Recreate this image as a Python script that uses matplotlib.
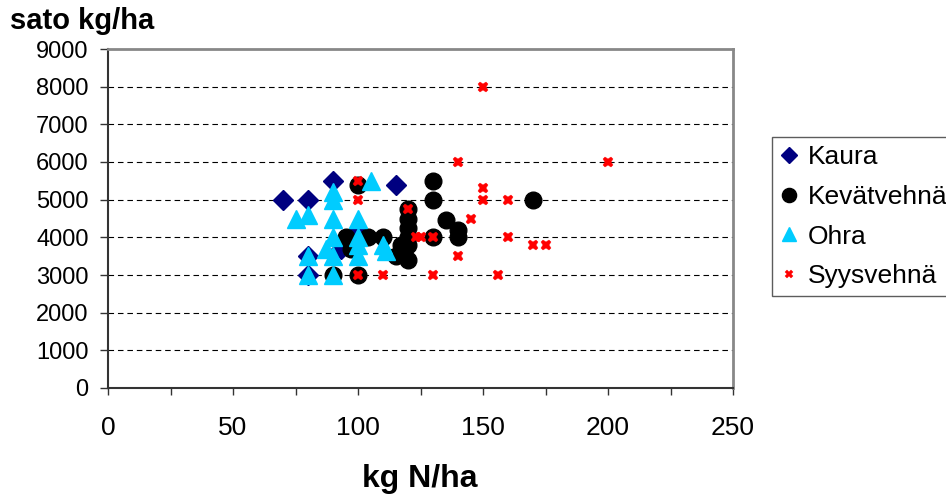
import matplotlib
matplotlib.use("Agg")
import matplotlib.pyplot as plt
from matplotlib.ticker import MultipleLocator

plt.rcParams['font.family'] = ['Liberation Sans', 'DejaVu Sans']

# data (kg N/ha, sato kg/ha)
kaura_x = [70, 80, 90, 115, 80, 80, 100, 93]
kaura_y = [5000, 5000, 5500, 5400, 3500, 3000, 4200, 3700]

kevat_x = [100, 130, 130, 170, 135, 140, 140, 130, 120, 120, 120, 120, 120,
           115, 117, 120, 95, 97, 104, 110, 90, 100]
kevat_y = [5400, 5500, 5000, 5000, 4450, 4200, 4000, 4000, 4750, 4500, 4250,
           4000, 3800, 3500, 3800, 3400, 4000, 3700, 4000, 4000, 3000, 3000]

ohra_x = [75, 80, 80, 80, 90, 90, 87, 90, 90, 90, 90, 100, 100, 100, 100,
          105, 110, 111]
ohra_y = [4500, 4600, 3500, 3000, 3000, 3500, 3700, 4000, 4500, 5000, 5200,
          4500, 4000, 3800, 3500, 5500, 3800, 3650]

syys_x = [150, 140, 200, 150, 150, 160, 145, 120, 123, 125, 130, 160, 170,
          175, 140, 130, 156, 110, 100, 100, 100]
syys_y = [8000, 6000, 6000, 5300, 5000, 5000, 4500, 4750, 4000, 4000, 4000,
          4000, 3800, 3800, 3500, 3000, 3000, 3000, 3000, 5000, 5500]

labels = ['Kaura', 'Kevätvehnä', 'Ohra', 'Syysvehnä']

W, H = 946, 495
fig = plt.figure(figsize=(W / 100, H / 100), dpi=100)
ax = fig.add_axes([108 / W, 1 - 388 / H, (733 - 108) / W, (388 - 49) / H])

ax.plot(kaura_x, kaura_y, ls='none', marker='D', ms=10, color='#000080',
        mec='#000080', label=labels[0], zorder=3)
ax.plot(kevat_x, kevat_y, ls='none', marker='o', ms=12, color='black',
        label=labels[1], zorder=4)
ax.plot(ohra_x, ohra_y, ls='none', marker='^', ms=12.5, color='#00CCFF',
        mec='#00CCFF', label=labels[2], zorder=5)
ax.plot(syys_x, syys_y, ls='none', marker='X', ms=7.5, color='#FF0000',
        mec='#FF0000', mew=0.3, label=labels[3], zorder=6)

ax.set_xlim(0, 250)
ax.set_ylim(0, 9000)
ax.xaxis.set_major_locator(MultipleLocator(50))
ax.xaxis.set_minor_locator(MultipleLocator(25))
ax.yaxis.set_major_locator(MultipleLocator(1000))

for y in range(1000, 9000, 1000):
    ax.axhline(y, color='black', lw=0.8, dashes=(5, 3.5), zorder=1)

for s in ['left', 'bottom']:
    ax.spines[s].set_color('#333333')
    ax.spines[s].set_linewidth(1.5)
for s in ['top', 'right']:
    ax.spines[s].set_color('#888888')
    ax.spines[s].set_linewidth(2)

ax.tick_params(axis='y', which='major', direction='out', length=6, width=1,
               color='#333333', labelsize=17, pad=8)
ax.tick_params(axis='x', which='both', direction='out', length=5, width=1,
               color='#333333', labelsize=19, pad=15)

fig.text(10 / W, 1 - 29 / H, 'sato kg/ha', fontsize=21, fontweight='bold',
         va='baseline', ha='left')
fig.text(420 / W, 1 - 487 / H, 'kg N/ha', fontsize=23, fontweight='bold',
         va='baseline', ha='center')

leg = fig.legend(loc='upper left', bbox_to_anchor=(772 / W, 1 - 137 / H),
                 fontsize=19, frameon=True, fancybox=False, borderaxespad=0,
                 handlelength=0.7, handletextpad=0.35, labelspacing=0.6,
                 borderpad=0.3, markerscale=0.85)
leg.get_frame().set_edgecolor('#333333')
leg.get_frame().set_linewidth(1)

fig.savefig('out.png', dpi=100)
